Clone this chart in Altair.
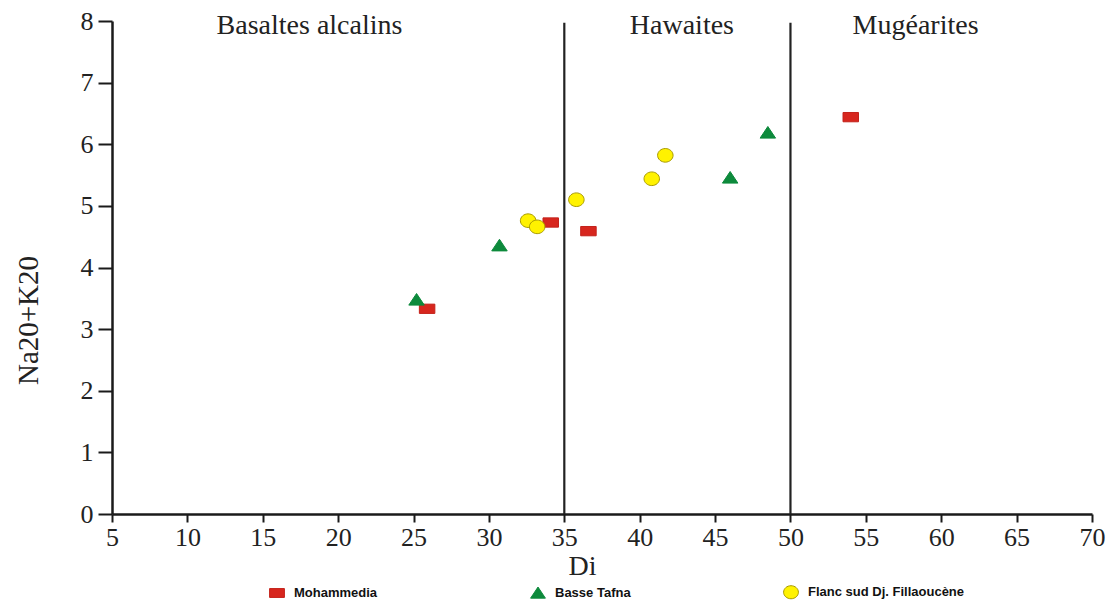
import altair as alt
import pandas as pd

# ---- data ----
groups = ["Mohammedia", "Basse Tafna", "Flanc sud Dj. Fillaoucène"]

mohammedia_di = [25.9, 34.1, 36.6, 54.0]
mohammedia_alk = [3.33, 4.73, 4.59, 6.44]

basse_tafna_di = [25.2, 30.7, 46.0, 48.5]
basse_tafna_alk = [3.48, 4.36, 5.46, 6.19]

flanc_di = [32.6, 33.2, 35.8, 40.8, 41.7]
flanc_alk = [4.76, 4.66, 5.10, 5.44, 5.82]

boundary_di = [35, 50]
boundary_top = [7.97, 7.97]

field_names = ["Basaltes alcalins", "Hawaites", "Mugéarites"]
field_di = [18.1, 42.8, 58.3]
field_alk = [7.92, 7.92, 7.92]

x_ticks = list(range(5, 75, 5))
y_ticks = list(range(0, 9))

fills = ["#d7261e", "#0d8a3c", "#fff200"]
strokes = ["#c4221b", "#0d8a3c", "#a89a00"]
shapes = [
    "M-1,-0.6L1,-0.6L1,0.6L-1,0.6Z",
    "M0,-0.78L1,0.72L-1,0.72Z",
    "M-1,0A1,0.88 0 1,0 1,0A1,0.88 0 1,0 -1,0Z",
]

# ---- tables ----
rows = []
for g, xs, ys in [
    (groups[0], mohammedia_di, mohammedia_alk),
    (groups[1], basse_tafna_di, basse_tafna_alk),
    (groups[2], flanc_di, flanc_alk),
]:
    for xv, yv in zip(xs, ys):
        rows.append({"group": g, "Di": xv, "alk": yv})
pts = pd.DataFrame(rows)

bounds = pd.DataFrame({"Di": boundary_di, "y0": [0, 0], "y1": boundary_top})
labels = pd.DataFrame({"name": field_names, "Di": field_di, "alk": field_alk})

xscale = alt.Scale(domain=[5, 70], nice=False, zero=False)
yscale = alt.Scale(domain=[0, 8], nice=False)

x_axis = alt.Axis(
    values=x_ticks, format="d", title="Di", grid=False, tickSize=8, tickWidth=2,
    domainWidth=2.5, domainColor="#1a1a1a", tickColor="#1a1a1a",
    labelFont="Liberation Serif", labelFontSize=26, labelColor="#222222",
    labelPadding=2, labelFlush=False,
    titleFont="Liberation Serif", titleFontSize=28, titleFontWeight="normal",
    titleColor="#222222", titleX=470, titleY=52, titleBaseline="middle",
)
y_axis = alt.Axis(
    values=y_ticks, format="d", title="Na20+K20", grid=False, tickSize=14, tickWidth=2,
    domainWidth=2.5, domainColor="#1a1a1a", tickColor="#1a1a1a",
    labelFont="Liberation Serif", labelFontSize=26, labelColor="#222222",
    labelPadding=5, labelFlush=False,
    titleFont="Liberation Serif", titleFontSize=29, titleFontWeight="normal",
    titleColor="#222222", titleX=-84, titleY=299, titleAngle=-90,
    titleBaseline="middle", titleAlign="center",
)

legend = alt.Legend(
    title=None, orient="none", legendX=157, legendY=563, direction="horizontal",
    columns=3, columnPadding=150, padding=0, symbolSize=220,
    symbolStrokeWidth=1, labelFont="Liberation Sans", labelFontSize=13,
    labelFontWeight="bold", labelColor="#111111", labelOffset=9,
)

points = alt.Chart(pts).mark_point(filled=True, opacity=1, strokeWidth=1).encode(
    x=alt.X("Di:Q", scale=xscale, axis=x_axis),
    y=alt.Y("alk:Q", scale=yscale, axis=y_axis),
    fill=alt.Fill("group:N", scale=alt.Scale(domain=groups, range=fills), legend=legend),
    stroke=alt.Stroke("group:N", scale=alt.Scale(domain=groups, range=strokes), legend=legend),
    shape=alt.Shape("group:N", scale=alt.Scale(domain=groups, range=shapes), legend=legend),
    size=alt.value(240),
)

rules = alt.Chart(bounds).mark_rule(color="#222222", strokeWidth=2.2).encode(
    x=alt.X("Di:Q", scale=xscale),
    y=alt.Y("y0:Q", scale=yscale),
    y2="y1:Q",
)

texts = alt.Chart(labels).mark_text(
    font="Liberation Serif", fontSize=28, color="#222222", baseline="middle", align="center"
).encode(
    x=alt.X("Di:Q", scale=xscale),
    y=alt.Y("alk:Q", scale=yscale),
    text="name:N",
)

chart = (
    alt.layer(rules, texts, points)
    .properties(
        width=980, height=493,
        autosize=alt.AutoSizeParams(type="none"),
        padding={"left": 104, "top": 13, "right": 14, "bottom": 86},
        background="white",
    )
    .configure_view(stroke=None)
)

chart.save("out.html", embed_options={"renderer": "svg", "actions": False})
